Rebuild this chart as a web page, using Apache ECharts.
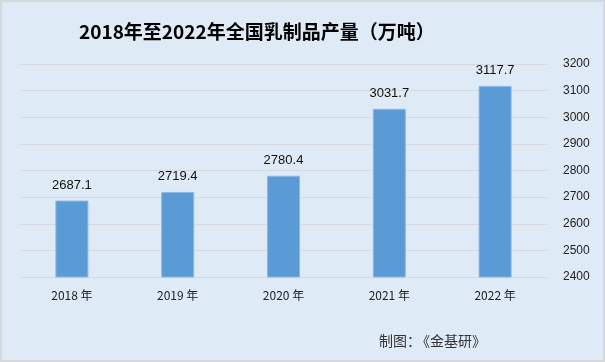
<!DOCTYPE html>
<html><head><meta charset="utf-8">
<script src="https://cdn.jsdelivr.net/npm/echarts@6/dist/echarts.min.js"></script>
<style>html,body{margin:0;padding:0;background:#fff}#c{width:605px;height:362px;box-sizing:border-box;border:2px solid #d4d9de;background:#deeaf6}</style>
</head><body><div id="c"></div>
<script>
const categories = ['2018年','2019年','2020年','2021年','2022年'];
const values = [2687.1, 2719.4, 2780.4, 3031.7, 3117.7];
const yMin = 2400, yMax = 3200, yStep = 100;
const titleText = '2018年至2022年全国乳制品产量（万吨）';
const footerLabel = '制图：';
const footerSource = '《金基研》';

const chart = echarts.init(document.getElementById('c'), null, {renderer:'canvas'});
chart.setOption({
  backgroundColor: '#deeaf6',
  animation: false,
  title: {text: titleText, left: 72, top: 15,
    textStyle: {fontFamily: 'Noto Sans CJK SC', fontSize: 19, fontWeight: 'bold', color: '#000'}},
  graphic: [
    {type:'text', left: 377, top: 332, style: {text: footerLabel, font: '14px "Noto Sans CJK SC"', fill: '#333'}},
    {type:'text', left: 414, top: 332, style: {text: footerSource, font: '14px "Noto Sans CJK SC"', fill: '#333'}}
  ],
  grid: {left: 17, right: 55, top: 62, bottom: 83},
  xAxis: {type: 'category', data: categories,
    axisLine: {show: false}, axisTick: {show: false},
    axisLabel: {color: '#222', fontSize: 12, margin: 12, fontFamily: 'Noto Sans CJK SC',
      formatter: v => v.replace('年', ' 年')}},
  yAxis: {type: 'value', position: 'right', min: yMin, max: yMax, interval: yStep,
    axisLine: {show: false}, axisTick: {show: false},
    axisLabel: {color: '#222', fontSize: 12, margin: 15, fontFamily: 'Liberation Sans',
      formatter: v => String(v)},
    splitLine: {lineStyle: {color: '#d5d8dc', width: 1}}},
  series: [{type: 'bar', data: values, barWidth: 33,
    itemStyle: {color: '#5b9bd5', borderColor: '#8ab8e4', borderWidth: 1},
    label: {show: true, position: 'top', distance: 9, color: '#111', fontSize: 13, fontFamily: 'Liberation Sans',
      formatter: p => p.value.toFixed(1)}}]
});
</script></body></html>
